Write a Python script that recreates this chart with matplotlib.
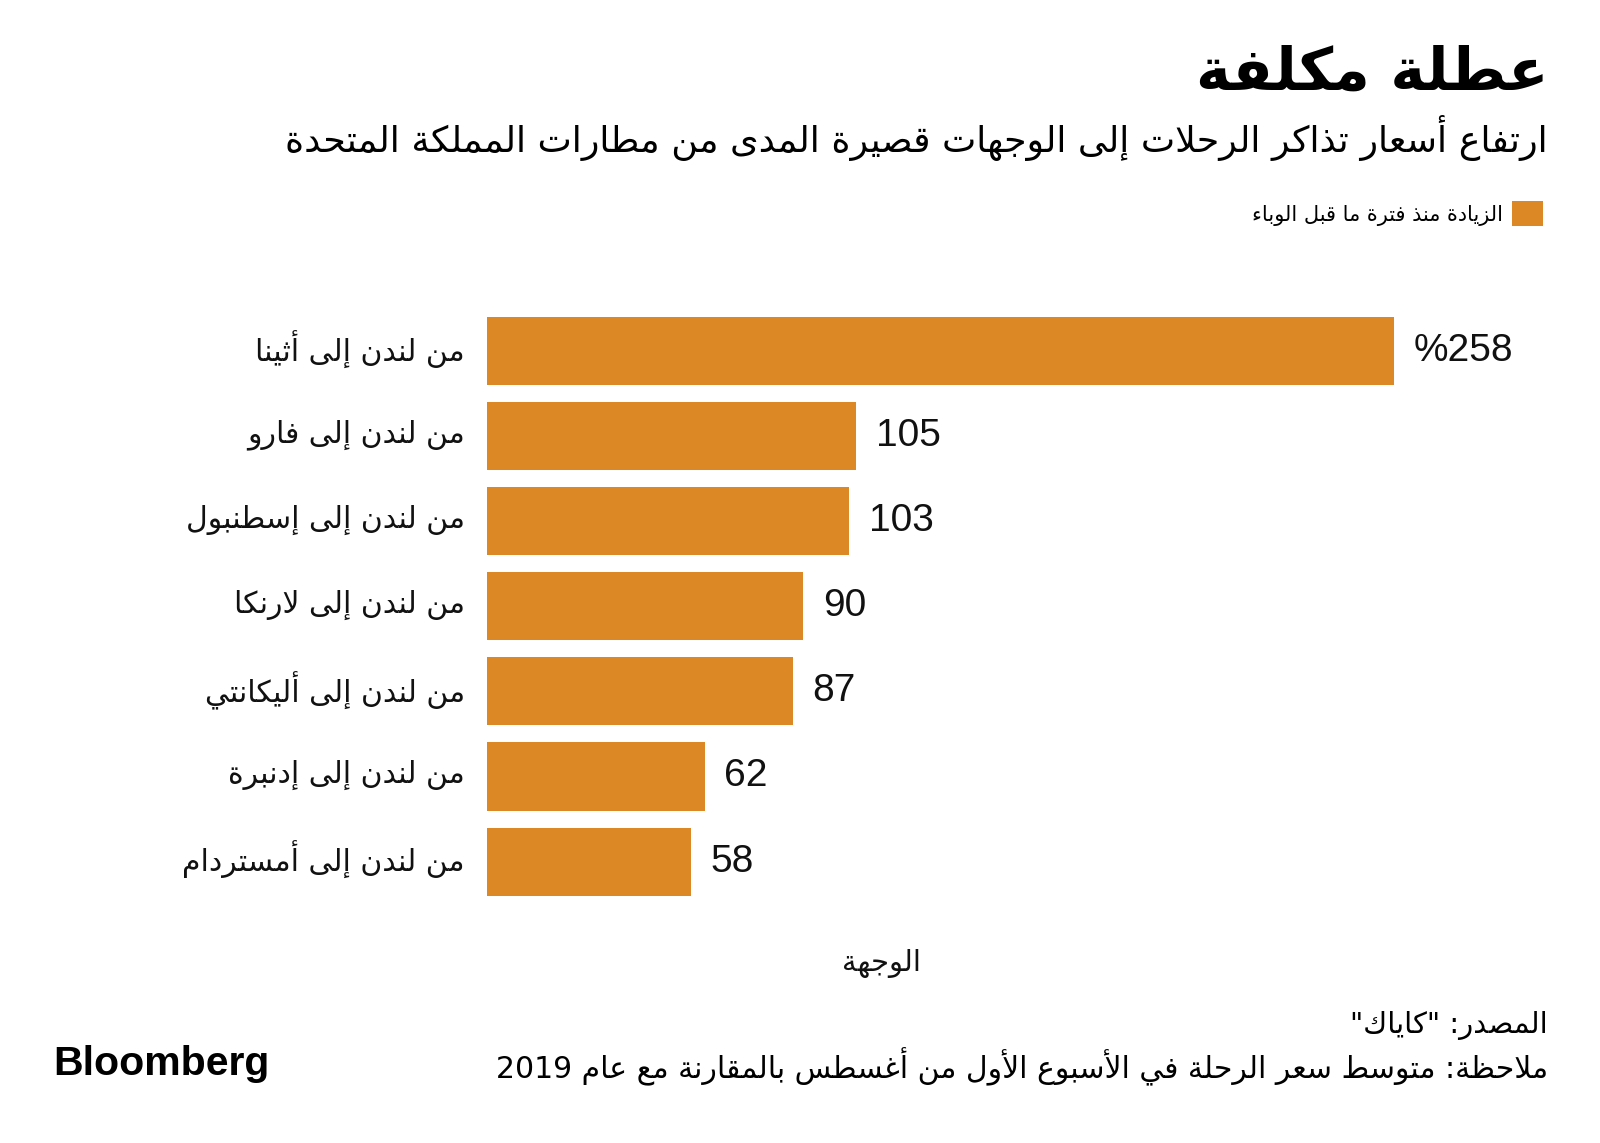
import re
import matplotlib
matplotlib.use("Agg")
import matplotlib.pyplot as plt
import matplotlib.transforms as mtransforms

# ---------------- data ----------------
title = "عطلة مكلفة"
subtitle = "ارتفاع أسعار تذاكر الرحلات إلى الوجهات قصيرة المدى من مطارات المملكة المتحدة"
legend_label = "الزيادة منذ فترة ما قبل الوباء"
categories = [
    "من لندن إلى أثينا",
    "من لندن إلى فارو",
    "من لندن إلى إسطنبول",
    "من لندن إلى لارنكا",
    "من لندن إلى أليكانتي",
    "من لندن إلى إدنبرة",
    "من لندن إلى أمستردام",
]
values = [258, 105, 103, 90, 87, 62, 58]
axis_label = "الوجهة"
source = 'المصدر: "كاياك"'
note = "ملاحظة: متوسط سعر الرحلة في الأسبوع الأول من أغسطس بالمقارنة مع عام 2019"

# ---------------- minimal Arabic shaping (presentation forms) ----------------
RJ = {'\u0622': 0xFE81, '\u0623': 0xFE83, '\u0624': 0xFE85, '\u0625': 0xFE87,
      '\u0627': 0xFE8D, '\u0629': 0xFE93, '\u062F': 0xFEA9, '\u0630': 0xFEAB,
      '\u0631': 0xFEAD, '\u0632': 0xFEAF, '\u0648': 0xFEED, '\u0649': 0xFEEF}
DJ = {'\u0626': 0xFE89, '\u0628': 0xFE8F, '\u062A': 0xFE95, '\u062B': 0xFE99,
      '\u062C': 0xFE9D, '\u062D': 0xFEA1, '\u062E': 0xFEA5, '\u0633': 0xFEB1,
      '\u0634': 0xFEB5, '\u0635': 0xFEB9, '\u0636': 0xFEBD, '\u0637': 0xFEC1,
      '\u0638': 0xFEC5, '\u0639': 0xFEC9, '\u063A': 0xFECD, '\u0641': 0xFED1,
      '\u0642': 0xFED5, '\u0643': 0xFED9, '\u0644': 0xFEDD, '\u0645': 0xFEE1,
      '\u0646': 0xFEE5, '\u0647': 0xFEE9, '\u064A': 0xFEF1}
NJ = {'\u0621': 0xFE80}
LAMALEF = {'\u0622': 0xFEF5, '\u0623': 0xFEF7, '\u0625': 0xFEF9, '\u0627': 0xFEFB}


def _shape(s):
    units = []
    i = 0
    while i < len(s):
        c = s[i]
        if c == '\u0644' and i + 1 < len(s) and s[i + 1] in LAMALEF:
            units.append(('LA', LAMALEF[s[i + 1]]))
            i += 2
            continue
        units.append(c)
        i += 1

    def joins_next(u):
        return isinstance(u, str) and u in DJ

    def joins_prev(u):
        return isinstance(u, tuple) or (isinstance(u, str) and (u in DJ or u in RJ))

    out = []
    for k, u in enumerate(units):
        prev = units[k - 1] if k > 0 else None
        nxt = units[k + 1] if k + 1 < len(units) else None
        cp = prev is not None and joins_next(prev) and joins_prev(u)
        cn = nxt is not None and joins_next(u) and joins_prev(nxt)
        if isinstance(u, tuple):
            out.append(chr(u[1] + (1 if cp else 0)))
        elif u in DJ:
            out.append(chr(DJ[u] + (3 if (cp and cn) else 1 if cp else 2 if cn else 0)))
        elif u in RJ:
            out.append(chr(RJ[u] + (1 if cp else 0)))
        elif u in NJ:
            out.append(chr(NJ[u]))
        else:
            out.append(u)
    return ''.join(out)


def ar(s):
    t = _shape(s)[::-1]
    return re.sub(r'[0-9]+', lambda m: m.group(0)[::-1], t)


# ---------------- figure ----------------
W, H = 1600, 1143
fig = plt.figure(figsize=(W / 100, H / 100), dpi=100)
fig.patch.set_facecolor('white')
AR = ['DejaVu Sans']
NUM = ['Liberation Sans', 'DejaVu Sans']
ORANGE = '#DC8925'


def fx(px):
    return px / W


def fy(py):
    return 1 - py / H


# axes: x from 487 px, 3.516 px per unit; bars centered at 351 .. 861.5 px
ax_left, ax_right = 487, 1548
ax_top, ax_bot = 300, 912.6
ax = fig.add_axes([fx(ax_left), fy(ax_bot), (ax_right - ax_left) / W, (ax_bot - ax_top) / H])
ax.set_xlim(0, (ax_right - ax_left) / 3.516)
ax.set_ylim(len(values) - 0.4, -0.6)

ypos = list(range(len(values)))
bars = ax.barh(ypos, values, height=0.8, color=ORANGE, label=ar(legend_label))

labels = [('%' + str(v)) if i == 0 else str(v) for i, v in enumerate(values)]
ax.bar_label(bars, labels=labels, padding=14, fontsize=28, family=NUM, color='#111111')

ax.set_yticks(ypos)
ax.set_yticklabels([ar(c) for c in categories], family=AR, fontsize=21.5, color='#111111')
ax.tick_params(axis='y', length=0, pad=16)
shift = mtransforms.ScaledTranslation(0, 5 / 100, fig.dpi_scale_trans)
for lbl in ax.get_yticklabels():
    lbl.set_transform(lbl.get_transform() + shift)
ax.set_xticks([])
for sp in ax.spines.values():
    sp.set_visible(False)

ax.set_xlabel(ar(axis_label), family=AR, fontsize=21, color='#111111')
ax.xaxis.set_label_coords((882 - ax_left) / (ax_right - ax_left), -(949 - ax_bot) / (ax_bot - ax_top))

# legend (marker on the right, RTL)
fig.legend(loc='upper right', bbox_to_anchor=(fx(1551), fy(193)), frameon=False,
           markerfirst=False, prop={'family': AR, 'size': 15},
           handlelength=1.45, handleheight=1.45, handletextpad=0.45, borderaxespad=0)

# titles
fig.text(fx(1548), fy(73), ar(title), ha='right', va='center', family=AR,
         fontsize=42.5, fontweight='bold', color='black')
fig.text(fx(1548), fy(138), ar(subtitle), ha='right', va='center', family=AR,
         fontsize=26.2, color='black')

# footer
fig.text(fx(1548), fy(1026), ar(source), ha='right', va='center', family=AR,
         fontsize=21, color='black')
fig.text(fx(1548), fy(1067), ar(note), ha='right', va='center', family=AR,
         fontsize=21.5, color='black')
fig.text(fx(53), fy(1064), 'Bloomberg', ha='left', va='center', family=NUM,
         fontsize=29.5, fontweight='bold', color='black')

fig.savefig('out.png', dpi=100, facecolor='white')
